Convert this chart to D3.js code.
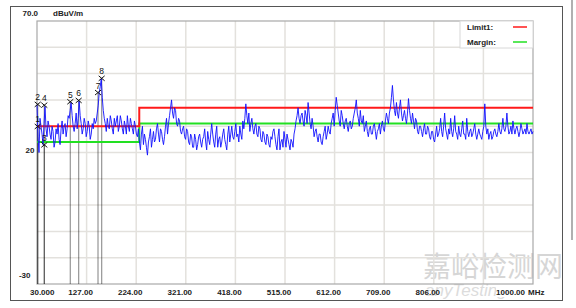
<!DOCTYPE html>
<html>
<head>
<meta charset="utf-8">
<script src="https://cdn.jsdelivr.net/npm/d3@7.9.0/dist/d3.min.js"></script>
<style>
  html, body { margin: 0; padding: 0; background: #fff; }
  svg { display: block; font-family: "Liberation Sans", Arial, sans-serif; }
</style>
</head>
<body>
<svg id="chart" width="576" height="308"></svg>
<script>
// Sweep 30 - 1000 MHz, levels (dBuV/m), equally spaced points
const fStart = 30, fStop = 1000;
const level = [
  38, 26, 20, 33, 30, 27, 23, 31, 37.5, 29, 26, 32, 30, 27, 25, 30, 28, 22, 24, 29,
  27, 31, 25, 23, 29, 32, 27, 30, 31, 26, 29, 34, 33, 36, 39, 34, 30, 28, 31, 35,
  29, 33, 39.5, 34, 31, 27, 29, 33, 31, 26, 28, 32, 30, 25, 27, 31, 29, 33, 31, 32,
  35, 38, 43, 45, 48, 41, 36, 33, 31, 28, 33, 30, 29, 34, 32, 29, 27, 33, 30, 32,
  34, 28, 30, 34, 32, 29, 27, 32, 30, 27, 34, 30, 28, 33, 31, 29, 27, 32, 30, 27,
  // ~225 MHz
  26, 29, 24, 21, 27, 30, 23, 27, 25, 22, 19, 24, 26, 29, 22, 25, 28, 24, 25, 29,
  31, 27, 24, 29, 28, 25, 23, 26, 30, 33, 27, 31, 34, 37, 40, 35, 33, 37, 36, 31,
  30, 33, 32, 28, 27, 29, 30, 26, 25, 29, 28, 24, 23, 27, 26, 22, 22, 27, 25, 21,
  23, 26, 27, 24, 22, 25, 26, 29, 24, 21, 28, 25, 23, 27, 31, 27, 24, 22, 27, 30,
  22, 25, 26, 22, 24, 27, 29, 25, 23, 21, 27, 30, 24, 27, 30, 26, 25, 28, 31, 26,
  // ~420 MHz
  27, 24, 30, 27, 25, 32, 29, 33, 38.5, 34, 31, 35, 28, 31, 33, 29, 27, 30, 31, 27,
  26, 30, 29, 25, 24, 28, 27, 24, 23, 27, 26, 23, 22, 26, 25, 28, 29, 26, 23, 21,
  26, 29, 21, 24, 25, 22, 28, 25, 22, 27, 25, 23, 21, 25, 24, 22, 27, 29, 32, 34,
  37, 33, 31, 34, 35, 32, 30, 36, 34, 31, 39, 35, 31, 29, 33, 30, 26, 28, 29, 26,
  24, 27, 27, 24, 23, 26, 28, 30, 25, 27, 30, 28, 27, 31, 33, 35, 30, 36, 41, 38,
  // ~620 MHz
  35, 32, 30, 36, 34, 31, 29, 32, 33, 30, 28, 31, 32, 29, 30, 33, 35, 37, 40, 35,
  33, 30, 36, 32, 31, 34, 28, 30, 32, 28, 26, 29, 30, 27, 27, 30, 31, 28, 25, 28,
  29, 31, 27, 30, 32, 29, 28, 32, 35, 33, 31, 35, 37, 41, 45.5, 40, 36, 34, 39, 35,
  33, 37, 40, 35, 32, 34, 36, 33, 31, 35, 40.5, 36, 33, 31, 35, 32, 29, 33, 32, 28,
  27, 30, 30, 28, 26, 29, 31, 27, 27, 30, 29, 26, 25, 28, 28, 25, 24, 27, 30, 26,
  // ~815 MHz
  27, 29, 33, 28, 26, 30, 35, 29, 27, 25, 29, 27, 33, 28, 26, 29, 34, 28, 27, 25,
  30, 27, 26, 29, 32, 27, 27, 25, 33, 28, 26, 28, 29, 26, 27, 29, 31, 27, 25, 27,
  29, 27, 26, 25, 28, 30, 38.5, 30, 27, 29, 25, 27, 28, 25, 26, 28, 29, 27, 26, 28,
  31, 28, 27, 29, 33, 29, 28, 30, 35, 30, 27, 28, 30, 27, 32, 29, 27, 29, 30, 28,
  26, 28, 31, 29, 27, 28, 29, 27, 31, 28, 27, 28, 29, 27, 28
];

const limit1 = [
  { f: 30, v: 30 }, { f: 230, v: 30 }, { f: 230, v: 37 }, { f: 1000, v: 37 }
];
const marginLine = [
  { f: 30, v: 24 }, { f: 230, v: 24 }, { f: 230, v: 31 }, { f: 1000, v: 31 }
];

const markers = [
  { n: 1, f: 31.4, v: 29.9 },
  { n: 2, f: 31.4, v: 38.3 },
  { n: 3, f: 44.3, v: 22.9 },
  { n: 4, f: 44.3, v: 38.0 },
  { n: 5, f: 95.1, v: 39.3 },
  { n: 6, f: 111.5, v: 39.8 },
  { n: 7, f: 149.3, v: 42.8 },
  { n: 8, f: 156.5, v: 48.2 }
];

const xTicks = [30, 127, 224, 321, 418, 515, 612, 709, 806, 903, 1000];
const xTickLabels = ['30.000', '127.00', '224.00', '321.00', '418.00', '515.00',
  '612.00', '709.00', '806.00', '', '1000.00'];
const yTicks = [70, 60, 50, 40, 30, 20, 10, 0, -10, -20, -30];

const legendItems = [
  { name: 'Limit1:', color: '#ff1a1a' },
  { name: 'Margin:', color: '#22e022' }
];

const svg = d3.select('#chart');
const x = d3.scaleLinear().domain([fStart, fStop]).range([37, 533]);
const y = d3.scaleLinear().domain([-30, 70]).range([284, 21]);
const step = (fStop - fStart) / (level.length - 1);
const trace = level.map((v, i) => ({ f: fStart + i * step, v }));

// outer frame
svg.append('line').attr('x1', 572).attr('x2', 572).attr('y1', 0).attr('y2', 240)
  .attr('stroke', '#b0b0b0').attr('stroke-width', 2);
svg.append('rect').attr('x', 10.5).attr('y', 6.5).attr('width', 552).attr('height', 294)
  .attr('fill', '#fff').attr('stroke', '#555');

// watermark
svg.append('text').attr('x', 423).attr('y', 277).attr('font-size', 28)
  .attr('font-family', '"Noto Sans CJK SC", sans-serif').attr('fill', '#d6d6d6')
  .text('嘉峪检测网');
svg.append('text').attr('x', 425).attr('y', 296).attr('font-size', 17)
  .attr('font-style', 'italic').attr('fill', '#dcdcdc')
  .text('anyTesting.com');

// grid
const grid = svg.append('g').attr('stroke', '#e3e1dd').attr('stroke-width', 1.5);
grid.selectAll('line.v').data(xTicks.slice(1, -1)).join('line')
  .attr('class', 'v')
  .attr('x1', d => x(d)).attr('x2', d => x(d)).attr('y1', y(70)).attr('y2', y(-30));
grid.selectAll('line.h').data(yTicks.slice(1, -1)).join('line')
  .attr('class', 'h')
  .attr('x1', x(30)).attr('x2', x(1000)).attr('y1', d => y(d)).attr('y2', d => y(d));

// plot border
svg.append('rect').attr('x', x(30)).attr('y', y(70))
  .attr('width', x(1000) - x(30)).attr('height', y(-30) - y(70))
  .attr('fill', 'none').attr('stroke', '#a8a8a8').attr('stroke-width', 1.2);

// marker drop lines
svg.append('g').selectAll('line').data(markers).join('line')
  .attr('x1', d => x(d.f)).attr('x2', d => x(d.f))
  .attr('y1', d => y(d.v)).attr('y2', y(-30))
  .attr('stroke', '#000').attr('stroke-opacity', 0.42).attr('stroke-width', 1.2);

// limit lines
const line = d3.line().x(d => x(d.f)).y(d => y(d.v));
svg.append('path').datum(marginLine).attr('d', line)
  .attr('fill', 'none').attr('stroke', '#22e022').attr('stroke-width', 2);
svg.append('path').datum(limit1).attr('d', line)
  .attr('fill', 'none').attr('stroke', '#ff1a1a').attr('stroke-width', 2);

// measured trace
svg.append('path').datum(trace).attr('d', line)
  .attr('fill', 'none').attr('stroke', '#1010ff').attr('stroke-width', 0.9)
  .attr('stroke-linejoin', 'round');

// markers: X + number
const mk = svg.append('g').selectAll('g').data(markers).join('g')
  .attr('transform', d => `translate(${x(d.f)},${y(d.v)})`);
mk.append('path').attr('d', 'M-3,-2.5L3,2.5M-3,2.5L3,-2.5')
  .attr('stroke', '#111').attr('stroke-width', 1).attr('fill', 'none');
mk.append('text').attr('y', -4).attr('text-anchor', 'middle')
  .attr('font-size', 8.5).attr('fill', '#111').text(d => d.n);

// axis labels
svg.append('rect').attr('x', 496).attr('y', 287).attr('width', 48).attr('height', 10).attr('fill', '#fff');
const labels = svg.append('g').attr('font-size', 8).attr('font-weight', 'bold').attr('fill', '#222');
labels.selectAll('text.x').data(xTicks.map((f, i) => ({ f, t: xTickLabels[i], i })).filter(d => d.t))
  .join('text').attr('class', 'x')
  .attr('x', d => d.i === 0 ? x(d.f) - 7 : (d.f === 1000 ? x(d.f) - 8 : x(d.f) - 6))
  .attr('y', 295)
  .attr('text-anchor', d => d.i === 0 ? 'start' : (d.f === 1000 ? 'end' : 'middle'))
  .text(d => d.t);
labels.append('text').attr('x', 528).attr('y', 295).text('MHz');
labels.append('text').attr('x', 22.5).attr('y', y(70) - 5).text('70.0');
labels.append('text').attr('x', 53).attr('y', y(70) - 5).text('dBuV/m');
labels.append('text').attr('x', 34.5).attr('y', y(20) + 0.5).attr('text-anchor', 'end').text('20');
labels.append('text').attr('x', 30.5).attr('y', y(-30) - 6).attr('text-anchor', 'end').text('-30');

// legend
const lg = svg.append('g').attr('transform', 'translate(460,21)');
lg.append('rect').attr('width', 73).attr('height', 27)
  .attr('fill', '#fff').attr('stroke', '#d8d8d8');
const li = lg.selectAll('g').data(legendItems).join('g')
  .attr('transform', (d, i) => `translate(0,${6 + i * 15})`);
li.append('text').attr('x', 7).attr('y', 3).attr('font-size', 8)
  .attr('font-weight', 'bold').attr('fill', '#222').text(d => d.name);
li.append('line').attr('x1', 53).attr('x2', 67).attr('y1', 0).attr('y2', 0)
  .attr('stroke', d => d.color).attr('stroke-width', 1.5);
</script>
</body>
</html>
